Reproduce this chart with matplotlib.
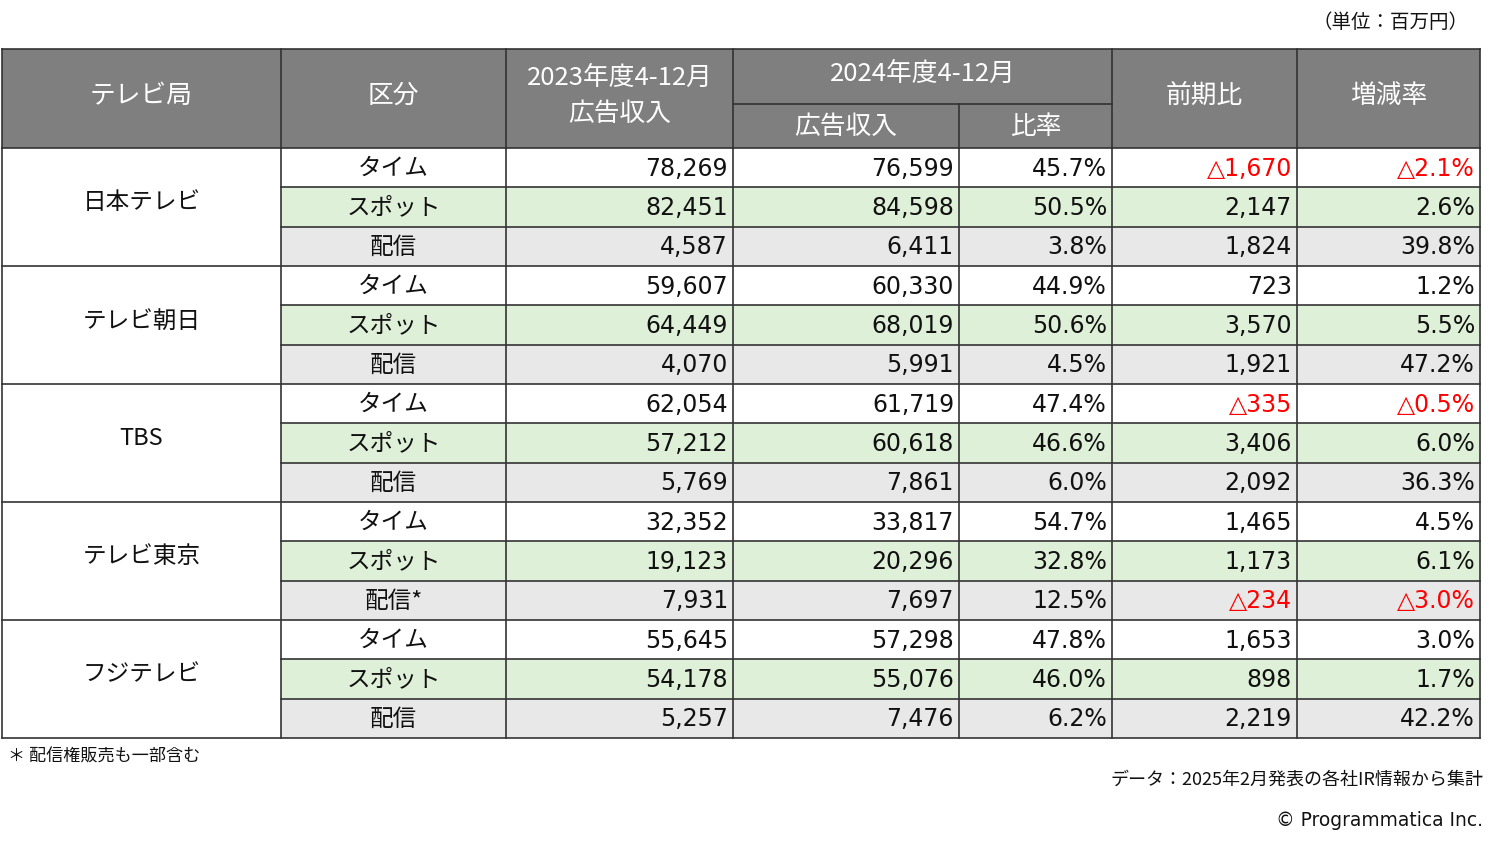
import matplotlib
matplotlib.use("Agg")
import matplotlib.pyplot as plt
from matplotlib.patches import Rectangle

# ---- data ----
stations = ["日本テレビ", "テレビ朝日", "TBS", "テレビ東京", "フジテレビ"]
categories = ["タイム", "スポット", "配信"]
cat_labels = [
    ["タイム", "スポット", "配信"],
    ["タイム", "スポット", "配信"],
    ["タイム", "スポット", "配信"],
    ["タイム", "スポット", "配信*"],
    ["タイム", "スポット", "配信"],
]
rev_2023 = [78269, 82451, 4587, 59607, 64449, 4070, 62054, 57212, 5769,
            32352, 19123, 7931, 55645, 54178, 5257]
rev_2024 = [76599, 84598, 6411, 60330, 68019, 5991, 61719, 60618, 7861,
            33817, 20296, 7697, 57298, 55076, 7476]
share_2024 = [45.7, 50.5, 3.8, 44.9, 50.6, 4.5, 47.4, 46.6, 6.0,
              54.7, 32.8, 12.5, 47.8, 46.0, 6.2]
yoy_diff = [-1670, 2147, 1824, 723, 3570, 1921, -335, 3406, 2092,
            1465, 1173, -234, 1653, 898, 2219]
yoy_rate = [-2.1, 2.6, 39.8, 1.2, 5.5, 47.2, -0.5, 6.0, 36.3,
            4.5, 6.1, -3.0, 3.0, 1.7, 42.2]

# ---- layout (pixels) ----
W, H = 1500, 846
col_x = [2, 281, 506, 733, 959, 1112, 1297, 1480]
head_top, head_mid, head_bot = 49, 104, 148
row_h = 39.33
n_rows = len(rev_2023)

HEAD_BG = "#7f7f7f"
GREEN = "#dff0d8"
GRAY = "#e8e8e8"
RED = "#ff0000"
LINE = "#333333"
JP = ["Noto Sans CJK JP", "DejaVu Sans"]
NUM = ["DejaVu Sans", "Noto Sans CJK JP"]

fig = plt.figure(figsize=(W / 100, H / 100), dpi=100)
ax = fig.add_axes([0, 0, 1, 1])
ax.set_xlim(0, W)
ax.set_ylim(H, 0)
ax.axis("off")

# header background
ax.add_patch(Rectangle((col_x[0], head_top), col_x[-1] - col_x[0], head_bot - head_top,
                       facecolor=HEAD_BG, edgecolor="none"))
hkw = dict(color="white", fontsize=18.5, family=JP, ha="center", va="center")
def cx(i, j=None):
    j = i + 1 if j is None else j
    return (col_x[i] + col_x[j]) / 2
ax.text(cx(0), 96, "テレビ局", **hkw)
ax.text(cx(1), 96, "区分", **hkw)
ax.text(cx(2), 78, "2023年度4-12月", **hkw)
ax.text(cx(2), 114, "広告収入", **hkw)
ax.text(cx(3, 5), 74, "2024年度4-12月", **hkw)
ax.text(cx(3), 127, "広告収入", **hkw)
ax.text(cx(4), 127, "比率", **hkw)
ax.text(cx(5), 96, "前期比", **hkw)
ax.text(cx(6), 96, "増減率", **hkw)

# header lines
lkw = dict(color=LINE, lw=1.2)
ax.plot([col_x[0], col_x[-1]], [head_top, head_top], **lkw)
ax.plot([col_x[3], col_x[5]], [head_mid, head_mid], **lkw)
for i, x in enumerate(col_x):
    if i == 4:
        ax.plot([x, x], [head_mid, head_bot], **lkw)
    else:
        ax.plot([x, x], [head_top, head_bot], **lkw)

def fmt_int(v):
    return ("△" if v < 0 else "") + f"{abs(v):,}"

def fmt_pct(v):
    return ("△" if v < 0 else "") + f"{abs(v):.1f}%"

bg_cycle = ["white", GREEN, GRAY]
pad = 5
for r in range(n_rows):
    y0 = head_bot + r * row_h
    yc = y0 + row_h / 2 + 1
    k = r % 3
    ax.add_patch(Rectangle((col_x[1], y0), col_x[-1] - col_x[1], row_h,
                           facecolor=bg_cycle[k], edgecolor="none"))
    ax.text(cx(1), yc, cat_labels[r // 3][k], fontsize=17, family=JP,
            ha="center", va="center", color="#111111")
    vals = [fmt_int(rev_2023[r]), fmt_int(rev_2024[r]), f"{share_2024[r]:.1f}%",
            fmt_int(yoy_diff[r]), fmt_pct(yoy_rate[r])]
    cols = ["#111111", "#111111", "#111111",
            RED if yoy_diff[r] < 0 else "#111111",
            RED if yoy_rate[r] < 0 else "#111111"]
    for c, (v, colr) in enumerate(zip(vals, cols)):
        ax.text(col_x[c + 3] - pad, yc, v, fontsize=17, family=NUM,
                ha="right", va="center", color=colr)
    x_start = col_x[0] if k == 0 else col_x[1]
    ax.plot([x_start, col_x[-1]], [y0, y0], **lkw)

# station names
for s, name in enumerate(stations):
    y0 = head_bot + s * 3 * row_h
    ax.text(cx(0), y0 + 1.5 * row_h - 4, name, fontsize=17, family=JP,
            ha="center", va="center", color="#111111")

tbl_bot = head_bot + n_rows * row_h
ax.plot([col_x[0], col_x[-1]], [tbl_bot, tbl_bot], **lkw)
for x in col_x:
    ax.plot([x, x], [head_bot, tbl_bot], **lkw)

# annotations
ax.text(1468, 23, "（単位：百万円）", fontsize=14, family=JP, ha="right", va="center",
        color="#111111")
ax.text(8, 757, "＊ 配信権販売も一部含む", fontsize=12.3, family=JP, ha="left", va="center",
        color="#111111")
ax.text(1483, 779, "データ：2025年2月発表の各社IR情報から集計", fontsize=13, family=JP,
        ha="right", va="center", color="#111111")
ax.text(1483, 820, "© Programmatica Inc.", fontsize=13.4, family=NUM,
        ha="right", va="center", color="#111111")

fig.savefig("out.png", dpi=100)
